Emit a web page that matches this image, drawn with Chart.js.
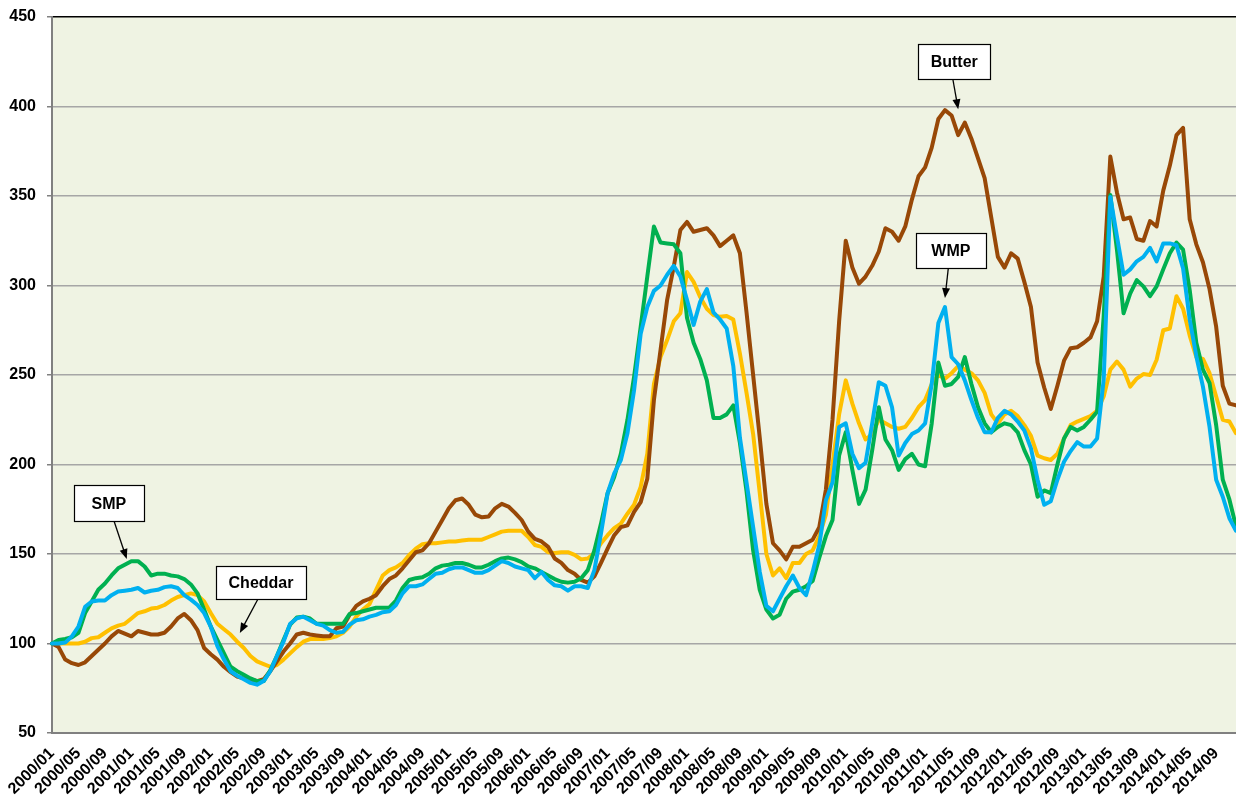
<!DOCTYPE html>
<html>
<head>
<meta charset="utf-8">
<script src="https://cdn.jsdelivr.net/npm/chart.js@4.4.1/dist/chart.umd.min.js"></script>
<style>
  html, body { margin: 0; padding: 0; background: #fff; overflow: hidden; }
  #wrap { width: 1236px; height: 803px; }
</style>
</head>
<body>
<div id="wrap"><canvas id="dairyChart" width="1236" height="803"></canvas></div>
<script>
// Months 2000/01 .. 2014/12, label shown every 4 months
const years = [2000, 2001, 2002, 2003, 2004, 2005, 2006, 2007, 2008, 2009, 2010, 2011, 2012, 2013, 2014];
const monthNums = ['01', '02', '03', '04', '05', '06', '07', '08', '09', '10', '11', '12'];
const categories = [];
years.forEach(y => monthNums.forEach(m => categories.push(y + '/' + m)));

const yTicks = [50, 100, 150, 200, 250, 300, 350, 400, 450];

// Index values (2000/01 = 100), one row per year
const butter = [
  100, 98, 91, 89, 88, 89.5, 93, 96.5, 100, 104, 107, 105.5,
  104, 107, 106, 105, 105, 106, 109.5, 114, 116.5, 113, 107.5, 97.5,
  94, 91, 87, 84, 81.5, 80.5, 80, 79, 80, 84.5, 90, 95.5,
  100, 105, 106, 105, 104.5, 104, 104, 108.5, 109.5, 116, 121, 123.5,
  125, 127, 132, 136, 138, 142, 146.5, 151, 152, 156, 162.5, 169,
  175.5, 180, 181, 177.5, 172, 170.5, 171, 175.5, 178, 176.5, 173, 169,
  162.5, 158.5, 157, 154, 147.5, 145, 141, 139, 135.5, 134, 137.5, 145,
  153, 160.5, 165, 166, 173.5, 179, 192, 236, 264, 292, 310.5, 331,
  335.5, 330, 331, 332, 328, 322, 325, 328, 318, 285, 250, 215,
  178, 156, 152, 147, 154, 154, 156, 158, 165, 186, 225, 280,
  325, 310, 301, 305, 311, 319, 332, 330, 325, 333, 348, 361,
  366, 377, 393, 398, 395, 384, 391, 382, 371, 360, 338, 316,
  310, 318, 315, 302, 288, 257, 243, 231, 244, 258, 265, 265.5,
  268, 271, 280, 305, 372, 352, 337, 338, 326, 325, 336, 333,
  353, 367, 384, 388, 337, 323, 313, 298, 277, 244, 234, 233
];

const cheddar = [
  100, 100, 100, 100, 100, 101, 103, 103.5, 106, 108.5, 110, 111,
  114, 117, 118, 119.5, 120, 121.5, 124, 126, 127, 128, 127, 123.5,
  117, 111, 108, 105, 101, 97.5, 93, 90, 88.5, 87, 88, 91,
  94.5, 98, 101, 102.5, 102.5, 102.5, 103, 104, 106, 109.5, 115, 119,
  122, 130, 138, 141, 142.5, 145, 149.5, 153, 155.5, 156, 156, 156.5,
  157, 157, 157.5, 158, 158, 158, 159.5, 161, 162.5, 163, 163, 163,
  159.5, 155, 154, 151, 150.5, 151, 151, 149.5, 147, 147.5, 150.5, 156,
  160.5, 164.5, 167, 172.5, 177.5, 187.5, 206, 245, 260, 269.5, 280, 284.5,
  307.5, 302, 293.5, 287, 283.5, 282.5, 283, 281, 262, 240, 217, 184,
  150, 138, 142, 136.5, 145, 145, 150, 152, 160, 172, 200, 228,
  247, 234, 223, 214, 217, 225, 223, 221, 220, 221, 226, 232,
  236, 245, 250, 248, 251, 255, 253, 251, 247, 240, 228, 223,
  228, 230, 227, 222, 216, 205, 203.5, 202.5, 206, 214.5, 222, 224,
  225.5, 227, 230, 238, 253, 257.5, 253, 243.5, 248, 250.5, 250, 258.5,
  275, 276, 294, 287, 272, 260, 259, 251, 238, 225, 224, 217.5
];

const smp = [
  100, 102, 102.5, 103.5, 106, 117, 123.5, 130, 133.5, 138, 142, 144,
  146, 146, 143, 138, 139, 139, 138, 137.5, 136, 133, 128, 119,
  109.5, 102, 94.5, 87, 84.5, 82.5, 80.5, 79, 79, 85, 93, 102,
  110.5, 114.5, 115, 114, 111, 111, 111, 111, 111, 116.5, 117, 118,
  119, 120, 120, 120, 124, 131, 135.5, 136.5, 137, 139, 142, 143.5,
  144, 145, 145, 144, 142.5, 142.5, 144, 146, 147.5, 148, 147, 145.5,
  143, 142, 140, 138, 136, 134.5, 134, 134.5, 136.5, 141, 152, 167,
  184, 193, 206, 225, 249, 277, 305, 333, 324, 323.5, 323, 318,
  282, 268, 259, 247, 226, 226, 228, 233, 212, 185, 152, 130,
  119, 114, 116, 125, 129, 130, 132, 135, 148, 160, 169, 205,
  218, 197, 178, 186, 208, 232, 214, 208, 197, 203, 206, 200,
  199, 223, 257, 244, 245, 249, 260, 245, 232, 223, 218, 221,
  223, 222, 218, 208, 200, 182, 185.5, 184, 200, 214.5, 221, 219,
  221, 225, 229.5, 283, 350.5, 320, 284.5, 295.5, 303, 299.5, 294, 299.5,
  309, 318, 324, 320, 297.5, 268, 253, 245.5, 222, 191.5, 180.5, 165.5
];

const wmp = [
  100, 100, 100.5, 104, 109.5, 120.5, 123.5, 124, 124, 127, 129, 129.5,
  130, 131, 128.5, 129.5, 130, 131.5, 132, 131, 127, 124.5, 121.5, 117,
  109.5, 98.5, 91, 84.5, 82, 80, 78, 77, 79, 84.5, 93, 101,
  111, 114, 115, 113, 111, 110, 107.5, 106, 106.5, 110.5, 113, 113.5,
  115, 116, 117.5, 118, 121.5, 128, 132, 132, 133, 136, 139, 139.5,
  141.5, 142.5, 142.5, 141, 139.5, 139.5, 141, 143.5, 146, 145, 143, 142,
  141, 136.5, 140, 135.5, 132.5, 132, 129.5, 132, 132, 131, 141, 161.5,
  184, 195, 202.5, 217.5, 241.5, 273, 288, 297, 300, 306, 311, 305,
  292, 278, 291, 298, 285, 281, 276, 255, 215, 190, 165, 140,
  121, 118, 125, 132, 138, 131, 127, 140, 155, 180, 190, 221,
  223, 206, 198, 201, 223, 246, 244, 232, 205, 212, 217, 219,
  223, 245, 279, 288, 260, 256, 247, 236, 226, 218, 218, 226,
  230, 228, 224, 219, 209, 191.5, 177.5, 179.5, 191.5, 201.5, 207.5, 212.5,
  210, 210, 214.5, 247.5, 349.5, 327.5, 306, 309, 313.5, 316, 321, 313.5,
  323.5, 323.5, 322.5, 309.5, 281, 260.5, 243.5, 221, 191.5, 182, 170, 163
];

// Callout boxes: centre and arrow given as (month index, index value)
const callouts = [
  { text: 'Butter',  cx: 136.4, cy: 425,   w: 72, h: 35, fromX: 136.2, toX: 137.0, toY: 398.5 },
  { text: 'WMP',     cx: 135.9, cy: 319.8, w: 70, h: 35, fromX: 135.5, toX: 135.0, toY: 293 },
  { text: 'SMP',     cx: 8.6,   cy: 178.5, w: 70, h: 36, fromX: 9.4,   toX: 11.3,  toY: 147.2 },
  { text: 'Cheddar', cx: 31.6,  cy: 133.8, w: 90, h: 33, fromX: 31.1,  toX: 28.4,  toY: 105.9 }
];

const FONT = "'Liberation Sans', Arial, sans-serif";

const plotBackground = {
  id: 'plotBackground',
  beforeDraw(chart) {
    const { ctx, chartArea: a } = chart;
    ctx.save();
    ctx.fillStyle = '#EFF3E3';
    ctx.fillRect(a.left, a.top, a.right - a.left, a.bottom - a.top);
    ctx.restore();
  }
};

const calloutPlugin = {
  id: 'callouts',
  afterDatasetsDraw(chart) {
    const { ctx } = chart;
    const xs = chart.scales.x, ys = chart.scales.y;
    ctx.save();
    callouts.forEach(c => {
      const cx = xs.getPixelForValue(c.cx);
      const cy = ys.getPixelForValue(c.cy);
      const left = Math.round(cx - c.w / 2) + 0.5;
      const top = Math.round(cy - c.h / 2) + 0.5;

      // arrow
      const sx = xs.getPixelForValue(c.fromX), sy = top + c.h;
      const tx = xs.getPixelForValue(c.toX), ty = ys.getPixelForValue(c.toY);
      const ang = Math.atan2(ty - sy, tx - sx);
      const hl = 10, hw = 4;
      ctx.strokeStyle = '#000';
      ctx.fillStyle = '#000';
      ctx.lineWidth = 1.3;
      ctx.beginPath();
      ctx.moveTo(sx, sy);
      ctx.lineTo(tx - Math.cos(ang) * hl * 0.8, ty - Math.sin(ang) * hl * 0.8);
      ctx.stroke();
      ctx.beginPath();
      ctx.moveTo(tx, ty);
      ctx.lineTo(tx - Math.cos(ang) * hl - Math.sin(ang) * hw, ty - Math.sin(ang) * hl + Math.cos(ang) * hw);
      ctx.lineTo(tx - Math.cos(ang) * hl + Math.sin(ang) * hw, ty - Math.sin(ang) * hl - Math.cos(ang) * hw);
      ctx.closePath();
      ctx.fill();

      // box
      ctx.fillStyle = '#fff';
      ctx.fillRect(left, top, c.w, c.h);
      ctx.lineWidth = 1.2;
      ctx.strokeStyle = '#000';
      ctx.strokeRect(left, top, c.w, c.h);
      ctx.fillStyle = '#000';
      ctx.font = 'bold 16px ' + FONT;
      ctx.textAlign = 'center';
      ctx.textBaseline = 'middle';
      ctx.fillText(c.text, cx, top + c.h / 2 + 1);
    });
    ctx.restore();
  }
};

function lineSet(label, data, color, order) {
  return {
    label: label,
    data: data,
    borderColor: color,
    backgroundColor: color,
    borderWidth: 4,
    pointRadius: 0,
    tension: 0,
    fill: false,
    borderJoinStyle: 'round',
    borderCapStyle: 'round',
    order: order
  };
}

new Chart(document.getElementById('dairyChart'), {
  type: 'line',
  data: {
    labels: categories,
    datasets: [
      lineSet('Butter', butter, '#984807', 2),
      lineSet('Cheddar', cheddar, '#FFC000', 3),
      lineSet('SMP', smp, '#00B050', 1),
      lineSet('WMP', wmp, '#00B0F0', 0)
    ]
  },
  options: {
    responsive: false,
    animation: false,
    layout: { padding: { top: 17, right: 0, bottom: 0, left: 0 } },
    plugins: {
      legend: { display: false },
      title: { display: false },
      tooltip: { enabled: false }
    },
    scales: {
      x: {
        type: 'category',
        offset: false,
        grid: { display: false, drawTicks: false },
        border: { display: true, color: '#808080', width: 2 },
        ticks: {
          autoSkip: false,
          minRotation: 45,
          maxRotation: 45,
          padding: 11,
          color: '#000',
          font: { family: FONT, size: 16, weight: 'bold' },
          callback: function (value, index) {
            return index % 4 === 0 ? categories[index] : '';
          }
        },
        afterFit: s => {
          s.height = 70;
          // plot runs to the right edge like the cropped original
          s.paddingLeft = 0;
          s.paddingRight = 0;
        }
      },
      y: {
        min: 50,
        max: 450,
        afterBuildTicks: s => { s.ticks = yTicks.map(v => ({ value: v })); },
        grid: {
          color: ctx => (ctx.tick && ctx.tick.value === 450) ? '#000' : '#A6A6A6',
          lineWidth: 1.5,
          tickLength: 5,
          tickColor: '#808080'
        },
        border: { display: true, color: '#808080', width: 2 },
        ticks: {
          padding: 11,
          color: '#000',
          font: { family: FONT, size: 16, weight: 'bold' }
        },
        afterFit: s => {
          s.width = 52;
          s.paddingTop = 0;
          s.paddingBottom = 0;
        }
      }
    }
  },
  plugins: [plotBackground, calloutPlugin]
});
</script>
</body>
</html>
